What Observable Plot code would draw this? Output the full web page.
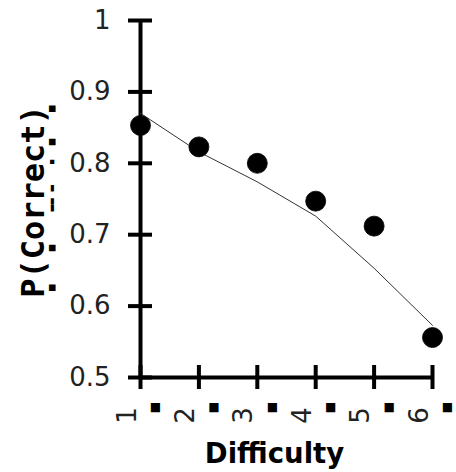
<!DOCTYPE html>
<html><head><meta charset="utf-8">
<script src="https://cdn.jsdelivr.net/npm/d3@7"></script>
<script src="https://cdn.jsdelivr.net/npm/@observablehq/plot@0.6"></script>
<style>html,body{margin:0;padding:0;background:#fff} svg{display:block}</style>
</head><body><div id="chart"></div>
<script>
const difficulty = [1, 2, 3, 4, 5, 6];
const observed = [0.853, 0.823, 0.800, 0.747, 0.712, 0.556];
const predicted = [0.870, 0.816, 0.774, 0.726, 0.653, 0.573];
const yTicks = [0.5, 0.6, 0.7, 0.8, 0.9, 1];
const xTickLabels = ["1", "2", "3", "4", "5", "6"];
const xTickMarker = "\u25A0";
const xLabel = "Difficulty";
const yLabel = "P(Correct)";
const yLabelArtifacts = "\u00a0\u25A0\u00a0\u00a0\u00a0\u00a0\u00a0\u25A0\u00a0\u00a0\u00a0\u00a0\u00a0\u25AC\u25AC\u00a0\u25AC\u00a0\u00a0\u00a0\u25AA\u00a0\u00a0\u25A0\u00a0\u00a0\u00a0\u00a0\u25A0";

const pts = difficulty.map((d, i) => ({d, p: observed[i]}));
const fit = difficulty.map((d, i) => ({d, p: predicted[i]}));
const sans = "DejaVu Sans";
const mono = "DejaVu Sans Mono";

const chart = Plot.plot({
  width: 456, height: 472,
  marginTop: 20, marginBottom: 95, marginLeft: 140, marginRight: 24,
  style: {fontFamily: sans, background: "#fff", color: "#000", overflow: "visible"},
  x: {domain: [1, 6], axis: null},
  y: {domain: [0.5, 1]},
  marks: [
    Plot.ruleX([1], {strokeWidth: 4, stroke: "#000"}),
    Plot.ruleY([0.5], {strokeWidth: 4, stroke: "#000"}),
    Plot.tickY(yTicks, {y: d => d, insetLeft: -12, insetRight: 280, strokeWidth: 4, stroke: "#000"}),
    Plot.tickX(difficulty, {x: d => d, insetTop: 345, insetBottom: -12, strokeWidth: 4, stroke: "#000"}),
    Plot.axisY(yTicks, {tickSize: 0, tickPadding: 30, fontSize: 26, fontFamily: sans, fill: "#222", label: null, tickFormat: d => String(d)}),
    Plot.text(difficulty, {x: d => d, frameAnchor: "bottom", text: (d, i) => xTickLabels[i], rotate: -90, fontSize: 26, fontFamily: sans, dx: -5, dy: 38, fill: "#222"}),
    Plot.text(difficulty, {x: d => d, frameAnchor: "bottom", text: () => xTickMarker, fontSize: 12, fontFamily: sans, dx: 15, dy: 33.5, fill: "#000"}),
    Plot.text([xLabel], {frameAnchor: "bottom", textAnchor: "middle", dx: -12, dy: 85, lineAnchor: "bottom", fontSize: 27.5, fontFamily: sans, fontWeight: "bold", fill: "#000"}),
    Plot.text([yLabel], {frameAnchor: "left", textAnchor: "middle", rotate: -90, lineAnchor: "bottom", fontFamily: mono, fontWeight: "bold", fontSize: 32, dx: -97, dy: 2.5, fill: "#000"}),
    Plot.text([yLabelArtifacts], {frameAnchor: "left", rotate: -90, textAnchor: "start", fontFamily: mono, fontSize: 11, dx: -89, dy: 98.5, fill: "#000"}),
    Plot.line(fit, {x: "d", y: "p", stroke: "#333", strokeWidth: 1}),
    Plot.dot(pts, {x: "d", y: "p", r: 10, fill: "#000", stroke: "#000", strokeWidth: 0.8})
  ]
});
document.getElementById("chart").append(chart);
</script>
</body></html>
